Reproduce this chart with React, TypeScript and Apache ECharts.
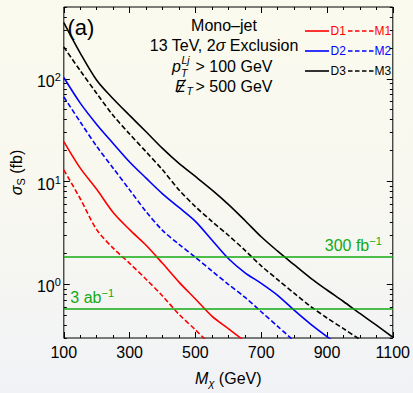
import React, { useEffect, useRef } from "react";
import * as echarts from "echarts";

// ---- data ----
const masses = [100, 150, 200, 250, 300, 350, 400, 450, 500, 550, 600, 650, 700, 750, 800, 850, 900, 950, 1000, 1050, 1100];
const d1 = [24.5, 13.5, 8.4, 5.0, 3.4, 2.4, 1.6, 1.05, 0.72, 0.49, 0.37, 0.28];
const m1 = [13, 6.8, 3.4, 2.25, 1.6, 1.12, 0.77, 0.51, 0.36, 0.25];
const d2 = [103, 58, 36, 23.5, 15.5, 10.8, 7.6, 5.6, 4.1, 2.7, 1.78, 1.3, 1.02, 0.78, 0.56, 0.41, 0.31, 0.24];
const m2 = [66.7, 38, 22, 13.5, 8.3, 5.1, 3.35, 2.45, 1.83, 1.35, 1.0, 0.75, 0.54, 0.39, 0.28];
const d3 = [353, 178, 97, 64, 44, 30.5, 21, 15, 11.2, 8.3, 6.0, 4.2, 2.9, 2.1, 1.55, 1.15, 0.88, 0.68, 0.52, 0.4, 0.305];
const m3 = [204, 120, 72, 44, 29, 19.5, 13, 8.3, 5.7, 4.1, 3.0, 2.15, 1.51, 1.11, 0.82, 0.61, 0.47, 0.37, 0.29, 0.23];
const lum300fb = 1.85;
const lum3ab = 0.585;

const xMajorTicks = [100, 300, 500, 700, 900, 1100];
const xMinorTicks = [150, 200, 250, 350, 400, 450, 550, 600, 650, 750, 800, 850, 950, 1000, 1050];
const yMajorValues = [1, 10, 100];
const yMinorValues = [0.3, 0.4, 0.5, 0.6, 0.7, 0.8, 0.9, 2, 3, 4, 5, 6, 7, 8, 9, 20, 30, 40, 50, 60, 70, 80, 90, 200, 300, 400, 500];
const yMin = 0.3;
const yMax = 500;

const FONT = "Liberation Sans, Arial, Helvetica, sans-serif";
const GREEN = "#14aa14";

const pairs = (vals: number[]) => vals.map((v, i) => [masses[i], v]);

export default function App() {
  const ref = useRef<HTMLDivElement>(null);
  useEffect(() => {
    if (!ref.current) return;
    const chart = echarts.init(ref.current, null, { renderer: "svg", width: 413, height: 393 });
    const lmin = Math.log10(yMin);
    const lmax = Math.log10(yMax);
    const majorLog = yMajorValues.map((v) => Math.log10(v));
    const minorLog = yMinorValues.map((v) => Math.log10(v));
    const tickAxisY = (position: string, ticks: number[], len: number, labels: boolean): any => ({
      type: "value",
      min: lmin,
      max: lmax,
      position,
      axisLine: { show: false, onZero: false },
      splitLine: { show: false },
      axisTick: { show: true, inside: true, length: len, customValues: ticks, lineStyle: { color: "#000", width: 1 } },
      axisLabel: labels
        ? {
            show: true,
            customValues: majorLog,
            margin: 3,
            padding: [5, 0, 0, 0],
            formatter: (v: number) => `{b|10}{s|${Math.round(v)}}`,
            rich: {
              b: { fontSize: 16, fontFamily: FONT, color: "#000", lineHeight: 20, verticalAlign: "middle" },
              s: { fontSize: 11, fontFamily: FONT, color: "#000", lineHeight: 11, verticalAlign: "top" },
            },
          }
        : { show: false },
    });
    const tickAxisX = (position: string, ticks: number[], len: number, labels: boolean): any => ({
      type: "value",
      min: 100,
      max: 1100,
      position,
      axisLine: { show: false, onZero: false },
      splitLine: { show: false },
      axisTick: { show: true, inside: true, length: len, customValues: ticks, lineStyle: { color: "#000", width: 1 } },
      axisLabel: labels
        ? {
            show: true,
            customValues: xMajorTicks,
            fontSize: 16,
            fontFamily: FONT,
            color: "#000",
            margin: 6,
            formatter: (v: number) => String(Math.round(v)),
          }
        : { show: false },
    });

    const xAxes: any[] = [
      {
        ...tickAxisX("bottom", xMajorTicks, 6, true),
        name: "{i|M}{s|χ} (GeV)",
        nameLocation: "middle",
        nameGap: 30,
        nameTextStyle: {
          fontSize: 16,
          fontFamily: FONT,
          color: "#000",
          rich: {
            i: { fontSize: 16, fontStyle: "italic", fontFamily: FONT, color: "#000", lineHeight: 20 },
            s: { fontSize: 11, fontStyle: "italic", fontFamily: FONT, color: "#000", lineHeight: 11, verticalAlign: "bottom" },
          },
        },
      },
      tickAxisX("bottom", xMinorTicks, 3, false),
      tickAxisX("top", xMajorTicks, 6, false),
      tickAxisX("top", xMinorTicks, 3, false),
    ];
    const yAxes: any[] = [
      { type: "log", logBase: 10, min: yMin, max: yMax, show: false, splitLine: { show: false } },
      {
        ...tickAxisY("left", majorLog, 6, true),
        name: "{i|σ}{s|S} (fb)",
        nameLocation: "middle",
        nameGap: 33,
        nameTextStyle: {
          fontSize: 16,
          fontFamily: FONT,
          color: "#000",
          rich: {
            i: { fontSize: 16, fontStyle: "italic", fontFamily: FONT, color: "#000", lineHeight: 20 },
            s: { fontSize: 11, fontFamily: FONT, color: "#000", lineHeight: 11, verticalAlign: "bottom" },
          },
        },
      },
      tickAxisY("left", minorLog, 3, false),
      tickAxisY("right", majorLog, 6, false),
      tickAxisY("right", minorLog, 3, false),
    ];

    const curve = (name: string, vals: number[], color: string, dashed: boolean): any => ({
      type: "line",
      name,
      data: pairs(vals),
      xAxisIndex: 0,
      yAxisIndex: 0,
      showSymbol: false,
      symbol: "none",
      smooth: 0.3,
      clip: true,
      lineStyle: { color, width: 1.6, type: dashed ? [5, 2.5] : "solid" },
    });

    const supLabelRich = {
      a: { fontSize: 16, fontFamily: FONT, color: GREEN, lineHeight: 20, verticalAlign: "middle" },
      s: { fontSize: 11, fontFamily: FONT, color: GREEN, lineHeight: 11, verticalAlign: "top" },
    };

    const legendRows = [
      { d: "D1", m: "M1", color: "#ff0000", y: 31 },
      { d: "D2", m: "M2", color: "#0000ff", y: 51 },
      { d: "D3", m: "M3", color: "#000000", y: 71 },
    ];
    const legendGraphics: any[] = [];
    legendRows.forEach((r) => {
      legendGraphics.push({ type: "line", shape: { x1: 305, y1: r.y, x2: 329, y2: r.y }, style: { stroke: r.color, lineWidth: 1.6 } });
      legendGraphics.push({ type: "text", x: 330.5, y: r.y, style: { text: r.d, fill: r.color, fontSize: 12, fontFamily: FONT, align: "left", verticalAlign: "middle" } });
      legendGraphics.push({ type: "line", shape: { x1: 348, y1: r.y, x2: 374, y2: r.y }, style: { stroke: r.color, lineWidth: 1.4, lineDash: [4.5, 2.5] } });
      legendGraphics.push({ type: "text", x: 374.5, y: r.y, style: { text: r.m, fill: r.color, fontSize: 12, fontFamily: FONT, align: "left", verticalAlign: "middle" } });
    });

    const txt = (text: string, x: number, y: number, size: number, extra: any = {}) => ({
      type: "text",
      x,
      y,
      style: { text, fill: "#000", fontSize: size, fontFamily: FONT, align: "left", verticalAlign: "middle", ...extra },
    });

    const annot: any[] = [
      txt("(a)", 67.5, 27, 22),
      txt("Mono–jet", 224, 25, 16, { align: "center" }),
      {
        type: "text",
        x: 224,
        y: 45,
        style: {
          text: "13 TeV, 2{i|σ} Exclusion",
          fill: "#000",
          fontSize: 16,
          fontFamily: FONT,
          align: "center",
          verticalAlign: "middle",
          rich: { i: { fontSize: 16, fontStyle: "italic", fontFamily: FONT, fill: "#000" } },
        },
      },
      txt("p", 172, 66, 16, { fontStyle: "italic" }),
      txt("Lj", 181.5, 60, 10.5, { fontStyle: "italic" }),
      txt("T", 181, 72.5, 10.5, { fontStyle: "italic" }),
      txt("> 100 GeV", 195.5, 66, 16),
      txt("E", 175, 86, 16, { fontStyle: "italic" }),
      { type: "line", shape: { x1: 177.5, y1: 92.5, x2: 185.5, y2: 79.5 }, style: { stroke: "#000", lineWidth: 1.1 } },
      txt("T", 186.5, 91, 10.5, { fontStyle: "italic" }),
      txt("> 500 GeV", 195.5, 86, 16),
    ];

    chart.setOption({
      animation: false,
      backgroundColor: "transparent",
      grid: { show: true, left: 54.5, right: 20, top: 7, bottom: 47.5, borderColor: "#000", borderWidth: 1, backgroundColor: "transparent", containLabel: false },
      xAxis: xAxes,
      yAxis: yAxes,
      series: [
        curve("D1", d1, "#ff0000", false),
        curve("M1", m1, "#ff0000", true),
        curve("D2", d2, "#0000ff", false),
        curve("M2", m2, "#0000ff", true),
        curve("D3", d3, "#000000", false),
        curve("M3", m3, "#000000", true),
        {
          type: "line",
          name: "lumi",
          data: [],
          xAxisIndex: 0,
          yAxisIndex: 0,
          markLine: {
            silent: true,
            symbol: "none",
            lineStyle: { color: GREEN, width: 1.6, type: "solid" },
            data: [
              {
                yAxis: lum300fb,
                label: { show: true, position: "insideEndTop", distance: [11, 1], formatter: "{a|300 fb}{s|−1}", rich: supLabelRich },
              },
              {
                yAxis: lum3ab,
                label: { show: true, position: "insideStartTop", distance: [6.5, 1], formatter: "{a|3 ab}{s|−1}", rich: supLabelRich },
              },
            ],
          },
        },
      ],
      graphic: [...legendGraphics, ...annot],
    });
    return () => chart.dispose();
  }, []);
  return (
    <div
      ref={ref}
      style={{
        position: "absolute",
        left: 0,
        top: 0,
        width: 413,
        height: 393,
        background: "linear-gradient(to bottom, #fafaee 0%, #f8f8f0 50%, #f1f2f6 100%)",
      }}
    />
  );
}
